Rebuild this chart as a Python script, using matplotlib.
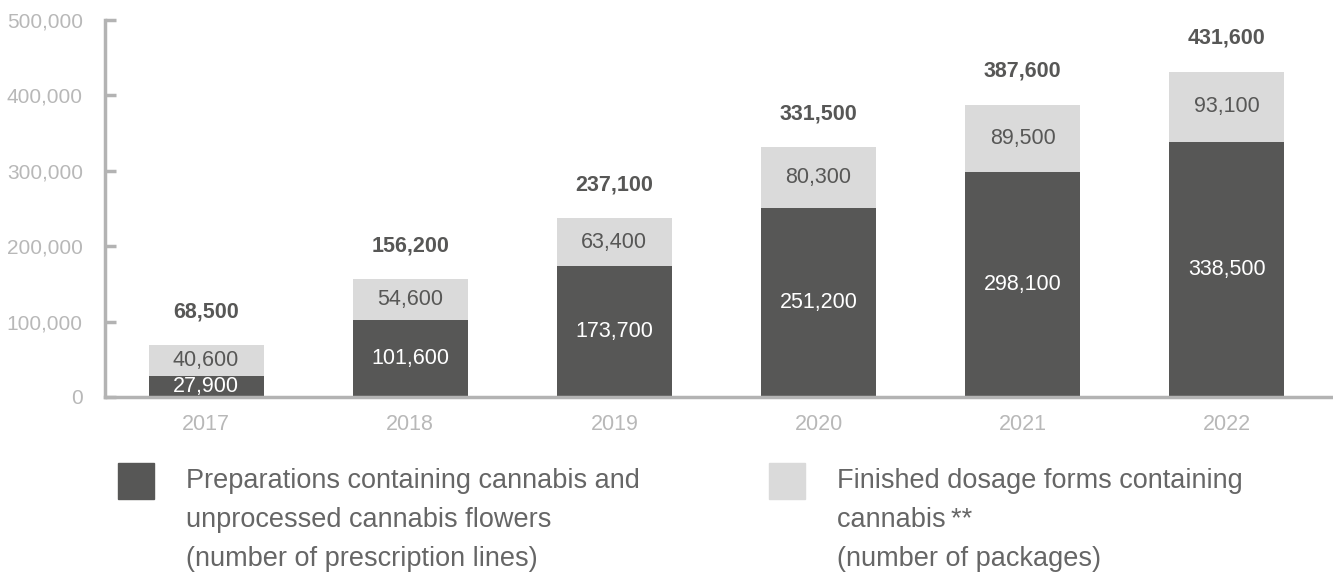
import matplotlib
matplotlib.use("Agg")
import matplotlib.pyplot as plt
from matplotlib.patches import Rectangle

years = ["2017", "2018", "2019", "2020", "2021", "2022"]
preparations = [27900, 101600, 173700, 251200, 298100, 338500]
finished = [40600, 54600, 63400, 80300, 89500, 93100]
totals = [68500, 156200, 237100, 331500, 387600, 431600]
yticks = [0, 100000, 200000, 300000, 400000, 500000]
legend1 = ["Preparations containing cannabis and", "unprocessed cannabis flowers",
           "(number of prescription lines)"]
legend2 = ["Finished dosage forms containing", "cannabis\u2009**", "(number of packages)"]

DARK = "#575756"
LIGHT = "#dadada"
AXIS = "#b3b3b3"
TICKTXT = "#b8b8b8"
LEGTXT = "#666666"
FONT = ["Liberation Sans", "DejaVu Sans"]
plt.rcParams["font.family"] = FONT

W, H = 1333, 576
fig = plt.figure(figsize=(W / 100, H / 100), dpi=100)
ax = fig.add_axes([105 / W, 1 - 397 / H, 1 - 105 / W, (397 - 20) / H])

x = list(range(len(years)))
w = 0.563
ax.bar(x, preparations, width=w, color=DARK, zorder=2)
ax.bar(x, finished, width=w, bottom=preparations, color=LIGHT, zorder=2)

fmt = lambda v: f"{v:,}"
for i in x:
    ax.text(i, preparations[i] / 2, fmt(preparations[i]), ha="center", va="center",
            color="white", fontsize=15.5)
    ax.text(i, preparations[i] + finished[i] / 2, fmt(finished[i]), ha="center", va="center",
            color=DARK, fontsize=15.5)
    ax.annotate(fmt(totals[i]), (i, totals[i]), xytext=(0, 24), textcoords="offset points",
                ha="center", va="center", color=DARK, fontsize=15.5, fontweight="bold")

ax.set_xlim(-0.495, 5.52)
ax.set_ylim(0, 500000)
ax.set_yticks(yticks)
ax.set_yticklabels([fmt(v) for v in yticks])
ax.set_xticks(x)
ax.set_xticklabels(years)
for s in ["top", "right"]:
    ax.spines[s].set_visible(False)
for s in ["left", "bottom"]:
    ax.spines[s].set_color(AXIS)
    ax.spines[s].set_linewidth(2.5)
ax.tick_params(axis="y", direction="in", length=8, width=2.5, color=AXIS, pad=16,
               labelcolor=TICKTXT, labelsize=15)
ax.tick_params(axis="x", length=0, pad=12, labelcolor=TICKTXT, labelsize=15.5)

# legend
fig.add_artist(Rectangle((118 / W, 1 - 499 / H), 36 / W, 36 / H,
                         transform=fig.transFigure, color=DARK))
fig.add_artist(Rectangle((769 / W, 1 - 499 / H), 36 / W, 36 / H,
                         transform=fig.transFigure, color=LIGHT))
baselines = [488, 527, 566]
for lines, x0 in ((legend1, 186), (legend2, 837)):
    for line, yb in zip(lines, baselines):
        fig.text(x0 / W, 1 - yb / H, line, ha="left", va="baseline",
                 fontsize=19.5, color=LEGTXT)

fig.savefig("out.png", dpi=100)
